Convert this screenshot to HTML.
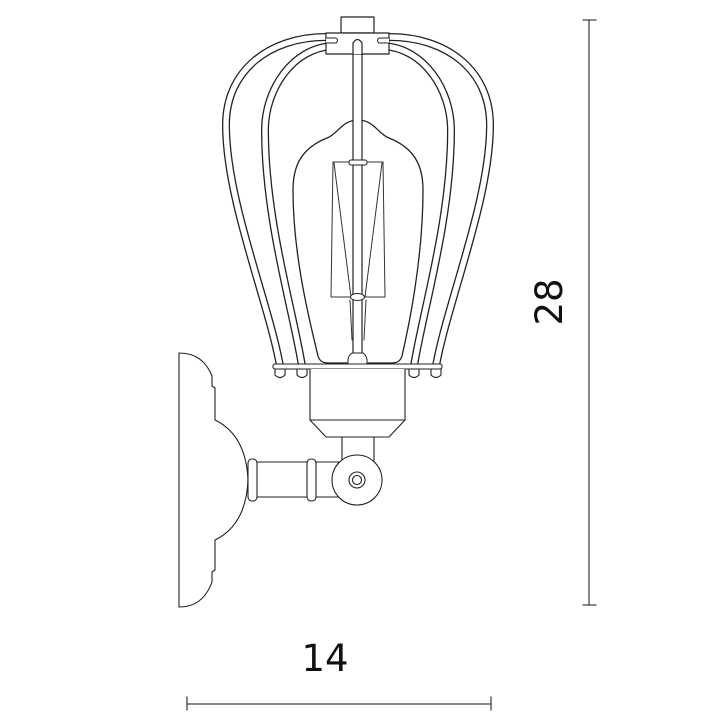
<!DOCTYPE html>
<html><head><meta charset="utf-8"><style>
html,body{margin:0;padding:0;background:#fff;width:720px;height:720px;overflow:hidden}
svg{display:block}
text{font-family:"DejaVu Sans","Liberation Sans",sans-serif;fill:#111}
</style></head><body>
<svg width="720" height="720" viewBox="0 0 720 720" xmlns="http://www.w3.org/2000/svg">
<g fill="none" stroke-linecap="round" stroke-linejoin="round">
<!-- cage wires (tubes) -->
<g id="wires">
<path d="M326,37 C270,37 226,70 226,125 C226,200 268,300 280,366" stroke="#222" stroke-width="8"/>
<path d="M326,37 C270,37 226,70 226,125 C226,200 268,300 280,366" stroke="#fff" stroke-width="5.4"/>
<path d="M333,46 C292,48 265,90 265,130 C265,220 293,310 302,366" stroke="#222" stroke-width="8"/>
<path d="M333,46 C292,48 265,90 265,130 C265,220 293,310 302,366" stroke="#fff" stroke-width="5.4"/>
<path d="M390,37 C446,37 490,70 490,125 C490,200 448,300 436,366" stroke="#222" stroke-width="8"/>
<path d="M390,37 C446,37 490,70 490,125 C490,200 448,300 436,366" stroke="#fff" stroke-width="5.4"/>
<path d="M383,46 C424,48 451,90 451,130 C451,220 423,310 414,366" stroke="#222" stroke-width="8"/>
<path d="M383,46 C424,48 451,90 451,130 C451,220 423,310 414,366" stroke="#fff" stroke-width="5.4"/>
</g>
<!-- bulb -->
<path d="M358,120 C342,120 338,134 327,138 C302,148 293,165 293,190 C293,260 312,330 318,356 Q320,363 328,363 L392,363 Q400,363 402,356 C408,330 423,260 423,190 C423,165 414,148 389,138 C378,134 374,120 358,120 Z" stroke="#222" stroke-width="1.3" fill="#fff"/>
<!-- filament -->
<g stroke="#333" stroke-width="1">
<line x1="333" y1="162" x2="383" y2="162"/>
<line x1="333" y1="162" x2="331" y2="297"/>
<line x1="383" y1="162" x2="385" y2="297"/>
<line x1="334" y1="163" x2="351" y2="297"/>
<line x1="382" y1="163" x2="365" y2="297"/>
<line x1="331" y1="297" x2="385" y2="297"/>
<line x1="350" y1="300" x2="352" y2="340"/>
<line x1="366" y1="300" x2="364" y2="340"/>
</g>
<!-- rod -->
<path d="M353,355 L353,43 Q357.5,36 362,43 L362,355" stroke="#222" stroke-width="1.2" fill="#fff"/>
<rect x="349" y="160" width="18" height="5" rx="2" stroke="#222" stroke-width="1" fill="#fff"/>
<ellipse cx="357.5" cy="297" rx="7" ry="3.5" stroke="#222" stroke-width="1" fill="#fff"/>
<path d="M352,353 Q348,356 348,360 L348,364 L367,364 L367,360 Q367,356 363,353 Z" stroke="#222" stroke-width="1" fill="#fff"/>
<!-- cap & plate -->
<rect x="341" y="17" width="33" height="16" stroke="#222" stroke-width="1.2" fill="#fff"/>
<path d="M326,33 L389,33 L389,54 L326,54 Z" stroke="#222" stroke-width="1.2" fill="#fff"/>
<path d="M326,38 L336,38 Q339,40 336,43 L326,43" stroke="#222" stroke-width="1" fill="#fff"/>
<path d="M389,38 L379,38 Q376,40 379,43 L389,43" stroke="#222" stroke-width="1" fill="#fff"/>
<path d="M353,54 L353,43 Q357.5,36 362,43 L362,54" stroke="#222" stroke-width="1.2" fill="#fff"/>
<!-- ring & bolts -->
<g stroke="#222" stroke-width="1.1" fill="#fff">
<path d="M275,369 L275,375 Q280,380 285,375 L285,369"/>
<path d="M297,369 L297,375 Q302,380 307,375 L307,369"/>
<path d="M409,369 L409,375 Q414,380 419,375 L419,369"/>
<path d="M431,369 L431,375 Q436,380 441,375 L441,369"/>
<rect x="273" y="364" width="169" height="5" rx="2"/>
<!-- socket -->
<path d="M310,369 L310,420 L326,437 L389,437 L405,420 L405,369"/>
<line x1="310" y1="420" x2="405" y2="420"/>
<rect x="342" y="437" width="32" height="26"/>
<!-- wall plate -->
<path d="M179,353 Q203,353 212,376 L212,386 L215,388 L215,420 Q246,435 248,480 Q246,525 215,540 L215,570 L212,572 L212,582 Q203,607 179,607 Z"/>
<!-- arm -->
<rect x="252" y="462" width="90" height="35"/>
<rect x="248" y="459" width="9" height="42" rx="4"/>
<rect x="307" y="459" width="9" height="42" rx="4"/>
<!-- joint -->
<circle cx="357" cy="480" r="25"/>
<circle cx="357" cy="480" r="8"/>
<circle cx="357" cy="480" r="4.5"/>
</g>
<!-- dimensions -->
<g stroke="#444" stroke-width="1.3">
<line x1="589" y1="20" x2="589" y2="605"/>
<line x1="583" y1="20" x2="596" y2="20"/>
<line x1="583" y1="605" x2="596" y2="605"/>
<line x1="187" y1="704" x2="491" y2="704"/>
<line x1="187" y1="697" x2="187" y2="710"/>
<line x1="491" y1="697" x2="491" y2="710"/>
</g>
</g>
<text x="325" y="671" font-size="37" text-anchor="middle">14</text>
<text transform="translate(562,302) rotate(-90)" font-size="37" text-anchor="middle">28</text>
</svg>
</body></html>
